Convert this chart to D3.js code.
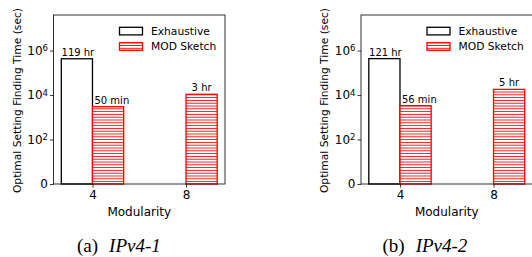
<!DOCTYPE html>
<html>
<head>
<meta charset="utf-8">
<script src="https://cdn.jsdelivr.net/npm/d3@7"></script>
<style>
  body { margin: 0; background: #fff; }
  svg { display: block; font-family: "DejaVu Sans", sans-serif; }
</style>
</head>
<body>
<svg id="chart" width="532" height="257"></svg>
<script>
// values in seconds (bar labels give the exact durations)
const modularity = ["4", "8"];
const seriesNames = ["Exhaustive", "MOD Sketch"];

const exhaustive1 = [119 * 3600, 0];
const modSketch1 = [50 * 60, 3 * 3600];
const exhaustiveLabels1 = ["119 hr", ""];
const modSketchLabels1 = ["50 min", "3 hr"];

const exhaustive2 = [121 * 3600, 0];
const modSketch2 = [56 * 60, 5 * 3600];
const exhaustiveLabels2 = ["121 hr", ""];
const modSketchLabels2 = ["56 min", "5 hr"];

const yTicks = [1, 1e2, 1e4, 1e6];
const yTickExp = ["", "2", "4", "6"];

const captions = [["(a)", "IPv4-1"], ["(b)", "IPv4-2"]];

const svg = d3.select("#chart");

const defs = svg.append("defs");
const hatch = defs.append("pattern")
  .attr("id", "hatch")
  .attr("patternUnits", "userSpaceOnUse")
  .attr("width", 6)
  .attr("height", 2.8);
hatch.append("rect").attr("width", 6).attr("height", 2.8).attr("fill", "#fff");
hatch.append("line")
  .attr("x1", 0).attr("x2", 6)
  .attr("y1", 1.4).attr("y2", 1.4)
  .attr("stroke", "#ff0000")
  .attr("stroke-width", 0.9);

const W = 171.5, H = 169, topY = 15;
const barW = 1 / 3;

function panel(x0, exh, mod, exhLabels, modLabels, caption, capX) {
  const g = svg.append("g").attr("transform", `translate(${x0},${topY})`);

  const x = d3.scaleLinear().domain([-0.4167, 1.4167]).range([0, W]);
  const y = d3.scaleLog().domain([1, Math.pow(10, 7.6)]).range([H, 0]);
  const bw = x(barW) - x(0);

  const yAxis = g.append("g")
    .call(d3.axisLeft(y).tickValues(yTicks).tickSize(3.5).tickPadding(2))
    .call(a => a.select(".domain").remove());
  yAxis.selectAll("line").attr("stroke", "#000").attr("stroke-width", 0.8);
  yAxis.selectAll("text")
    .attr("font-size", 12)
    .attr("fill", "#000")
    .attr("font-family", "DejaVu Sans")
    .each(function (d, i) {
      const t = d3.select(this).text("");
      if (i === 0) { t.text("0"); return; }
      t.append("tspan").text("10");
      t.append("tspan").attr("font-size", 8.5).attr("dy", "-0.45em").text(yTickExp[i]);
    });

  const xAxis = g.append("g")
    .attr("transform", `translate(0,${H})`)
    .call(d3.axisBottom(x).tickValues([0, 1]).tickFormat(i => modularity[i]).tickSize(3.5).tickPadding(3))
    .call(a => a.select(".domain").remove());
  xAxis.selectAll("line").attr("stroke", "#000").attr("stroke-width", 0.8);
  xAxis.selectAll("text").attr("font-size", 12).attr("fill", "#000").attr("font-family", "DejaVu Sans");

  const yv = v => y(Math.max(v, 1));

  // exhaustive bars (left of tick)
  g.selectAll(".exh").data(exh).enter().append("rect")
    .attr("x", (d, i) => x(i - barW))
    .attr("width", bw)
    .attr("y", d => yv(d))
    .attr("height", d => H - yv(d))
    .attr("fill", "#fff")
    .attr("stroke", "#000")
    .attr("stroke-width", 1.3);

  // MOD Sketch bars (right of tick)
  g.selectAll(".mod").data(mod).enter().append("rect")
    .attr("x", (d, i) => x(i))
    .attr("width", bw)
    .attr("y", d => yv(d))
    .attr("height", d => H - yv(d))
    .attr("fill", "url(#hatch)")
    .attr("stroke", "#ff0000")
    .attr("stroke-width", 1.3);

  g.selectAll(".exhLab").data(exh).enter().append("text")
    .attr("x", (d, i) => x(i - barW / 2) + 1)
    .attr("y", d => yv(d) - 3)
    .attr("text-anchor", "middle")
    .attr("font-size", 10)
    .text((d, i) => exhLabels[i]);

  // labels wider than the bar start just inside its left edge
  g.selectAll(".modLab").data(mod).enter().append("text")
    .attr("x", (d, i) => x(i + barW / 2))
    .attr("y", d => yv(d) - 3)
    .attr("text-anchor", "middle")
    .attr("font-size", 10)
    .text((d, i) => modLabels[i])
    .each(function (d, i) {
      const len = this.getComputedTextLength();
      if (len > bw) {
        d3.select(this).attr("text-anchor", "start").attr("x", x(i) + 2);
      }
    });

  // frame
  g.append("rect")
    .attr("width", W).attr("height", H)
    .attr("fill", "none")
    .attr("stroke", "#000")
    .attr("stroke-width", 0.8);

  // legend
  const lg = g.append("g").attr("transform", "translate(66,12.3)");
  seriesNames.forEach((name, i) => {
    lg.append("rect")
      .attr("x", 0).attr("y", i * 15.4)
      .attr("width", 23).attr("height", 7.6)
      .attr("fill", i === 0 ? "#fff" : "url(#hatch)")
      .attr("stroke", i === 0 ? "#000" : "#ff0000")
      .attr("stroke-width", 1.3);
    lg.append("text")
      .attr("x", 31.5).attr("y", i * 15.4 + 7.7)
      .attr("font-size", 10.7)
      .text(name);
  });

  // axis labels
  g.append("text")
    .attr("x", W / 2).attr("y", H + 31.5)
    .attr("text-anchor", "middle")
    .attr("font-size", 12)
    .text("Modularity");

  g.append("text")
    .attr("transform", `translate(-33,${H / 2 + 1}) rotate(-90)`)
    .attr("text-anchor", "middle")
    .attr("font-size", 10.7)
    .text("Optimal Setting Finding Time (sec)");

  // caption
  const cap = svg.append("text")
    .attr("x", capX).attr("y", 252)
    .attr("font-family", "Liberation Serif, Times New Roman, serif")
    .attr("font-size", 19);
  cap.append("tspan").text(caption[0]);
  cap.append("tspan").attr("dx", 11).attr("font-style", "italic").text(caption[1]);
}

panel(53.5, exhaustive1, modSketch1, exhaustiveLabels1, modSketchLabels1, captions[0], 77);
panel(361, exhaustive2, modSketch2, exhaustiveLabels2, modSketchLabels2, captions[1], 382.5);
</script>
</body>
</html>
